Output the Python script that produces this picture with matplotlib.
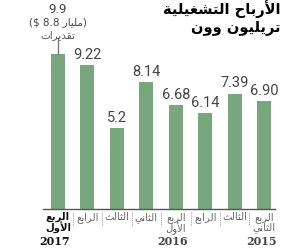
import matplotlib
matplotlib.use("Agg")
import matplotlib.pyplot as plt

# quarters, newest first (left) as in the source chart
quarters = ["الربع الأول", "الرابع", "الثالث", "الثاني", "الربع الأول", "الرابع", "الثالث", "الربع الثاني"]
values = [9.9, 9.22, 5.2, 8.14, 6.68, 6.14, 7.39, 6.90]
value_labels = ["9.9", "9.22", "5.2", "8.14", "6.68", "6.14", "7.39", "6.90"]
years = {0: "2017", 4: "2016", 7: "2015"}
title = ["الأرباح التشغيلية", "تريليون وون"]
note = ["مليار", "تقديرات"]

# --- minimal arabic shaping (matplotlib does no shaping / bidi) ---
FORMS = {  # isolated, final, initial, medial
    'ا': ('\ufe8d', '\ufe8e', None, None),
    'أ': ('\ufe83', '\ufe84', None, None),
    'ب': ('\ufe8f', '\ufe90', '\ufe91', '\ufe92'),
    'ة': ('\ufe93', '\ufe94', None, None),
    'ت': ('\ufe95', '\ufe96', '\ufe97', '\ufe98'),
    'ث': ('\ufe99', '\ufe9a', '\ufe9b', '\ufe9c'),
    'ح': ('\ufea1', '\ufea2', '\ufea3', '\ufea4'),
    'د': ('\ufea9', '\ufeaa', None, None),
    'ر': ('\ufead', '\ufeae', None, None),
    'ش': ('\ufeb5', '\ufeb6', '\ufeb7', '\ufeb8'),
    'ع': ('\ufec9', '\ufeca', '\ufecb', '\ufecc'),
    'غ': ('\ufecd', '\ufece', '\ufecf', '\ufed0'),
    'ق': ('\ufed5', '\ufed6', '\ufed7', '\ufed8'),
    'ل': ('\ufedd', '\ufede', '\ufedf', '\ufee0'),
    'م': ('\ufee1', '\ufee2', '\ufee3', '\ufee4'),
    'ن': ('\ufee5', '\ufee6', '\ufee7', '\ufee8'),
    'و': ('\ufeed', '\ufeee', None, None),
    'ي': ('\ufef1', '\ufef2', '\ufef3', '\ufef4'),
    '\ufef7': ('\ufef7', '\ufef8', None, None),
    '\ufefb': ('\ufefb', '\ufefc', None, None),
}


def ar(text):
    s = text.replace('لأ', '\ufef7').replace('لا', '\ufefb')
    out = []
    for i, c in enumerate(s):
        f = FORMS.get(c)
        if f is None:
            out.append(c)
            continue
        prev = FORMS.get(s[i - 1]) if i > 0 else None
        nxt = FORMS.get(s[i + 1]) if i + 1 < len(s) else None
        a = prev is not None and prev[2] is not None
        b = nxt is not None and f[2] is not None
        if a and b:
            out.append(f[3])
        elif a:
            out.append(f[1])
        elif b:
            out.append(f[2])
        else:
            out.append(f[0])
    return ''.join(reversed(out))


green = '#78a77e'
num_font = ['Liberation Sans Narrow', 'Roboto', 'DejaVu Sans']

fig = plt.figure(figsize=(3, 2.5), dpi=100)
ax = fig.add_axes([0.143, 0.164, 0.774, 0.812])

x = list(range(len(values)))
ax.bar(x, values, width=0.48, color=green)
ax.set_xlim(-0.51, 7.37)
ax.set_ylim(0, 13)
for s in ['top', 'right', 'left']:
    ax.spines[s].set_visible(False)
ax.spines['bottom'].set_color('#555555')
ax.spines['bottom'].set_linewidth(1)
ax.set_xticks([])
ax.set_yticks([])

for i, (v, lab) in enumerate(zip(values, value_labels)):
    if i == 0:
        continue
    ax.text(i, v + 0.2, lab, ha='center', va='bottom', fontsize=10.5,
            color='#444444', family=num_font)

# estimate note above first bar
ax.plot([0, 0], [values[0], values[0] + 1.05], color='#777777', lw=1)
ax.text(0, 12.75, value_labels[0], ha='center', va='center', fontsize=9.5,
        color='#444444', family=num_font)
ax.text(0, 12.0, '($ 8.8 ' + ar(note[0]) + ')', ha='center', va='center',
        fontsize=7.5, color='#444444', family='DejaVu Sans')
ax.text(0, 11.15, ar(note[1]), ha='center', va='center', fontsize=7.5,
        color='#555555', family='DejaVu Sans')

# title
fig.text(0.935, 0.965, ar(title[0]), ha='right', va='center', fontsize=10.5,
         fontweight='bold', family='DejaVu Sans')
fig.text(0.935, 0.89, ar(title[1]), ha='right', va='center', fontsize=10.5,
         fontweight='bold', family='DejaVu Sans')

# category labels under axis
for i, q in enumerate(quarters):
    words = q.split(' ')
    bold = i == 0
    col = '#111111' if bold else '#666666'
    ax.text(i, -0.2, ar(words[0]), ha='center', va='top', fontsize=7.2,
            color=col, fontweight='bold' if bold else 'normal', family='DejaVu Sans')
    if len(words) > 1:
        ax.text(i, -0.85, ar(words[1]), ha='center', va='top', fontsize=7.2,
                color=col, fontweight='bold' if bold else 'normal', family='DejaVu Sans')
    if i < len(quarters) - 1:
        ax.plot([i + 0.5, i + 0.5], [-0.2, -1.1], color='#999999', lw=0.7,
                ls=(0, (1, 1)), clip_on=False)

for i, y in years.items():
    ax.text(i - 0.1, -1.75, y, ha='center', va='top', fontsize=8, fontweight='bold',
            color='#111111' if i == 0 else '#444444', family='DejaVu Serif')

fig.savefig('out.png', dpi=100)
